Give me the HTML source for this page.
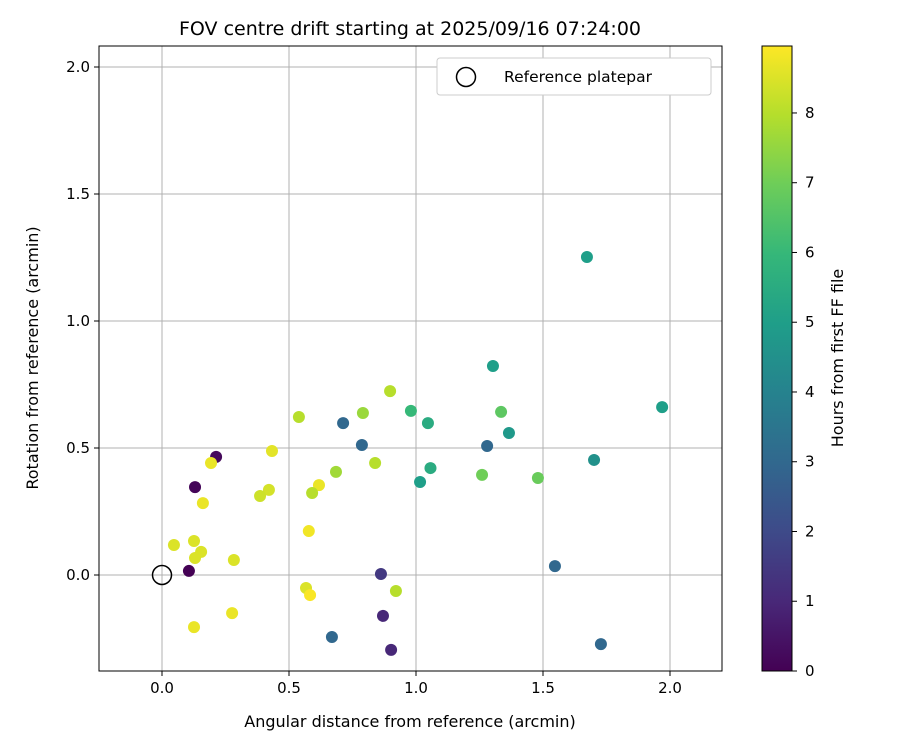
<!DOCTYPE html>
<html><head><meta charset="utf-8"><style>
body{margin:0;background:#fff;font-family:"Liberation Sans","DejaVu Sans",sans-serif}
svg text{font-family:"DejaVu Sans","Liberation Sans",sans-serif}
</style></head><body>
<svg id="c" width="900" height="750" viewBox="0 0 900 750"></svg>
<script>
const xVals=[1.673,1.303,1.969,0.898,1.335,0.980,0.791,0.539,0.713,1.047,1.366,0.787,1.280,0.213,0.433,0.193,1.701,0.839,1.057,0.685,1.260,1.480,1.016,0.618,0.130,0.421,0.591,0.386,0.161,0.578,0.047,0.126,0.154,0.130,0.283,1.547,0.106,0.862,0.567,0.921,0.583,0.276,0.870,0.126,0.669,1.728,0.902];
const yVals=[1.252,0.823,0.661,0.724,0.642,0.646,0.638,0.622,0.598,0.598,0.559,0.512,0.508,0.465,0.488,0.441,0.453,0.441,0.421,0.406,0.394,0.382,0.366,0.354,0.346,0.335,0.323,0.311,0.283,0.173,0.118,0.134,0.091,0.067,0.059,0.035,0.016,0.004,-0.051,-0.063,-0.079,-0.150,-0.161,-0.205,-0.244,-0.272,-0.295];
const hours=[5,5,5,8,6.7,6,7.6,8,3,5.5,4.8,3,3,0.2,8.6,8.7,4.5,8,5.5,7.7,7,6.9,5,8.7,0.1,8.4,8,8.3,8.7,8.8,8.5,8.5,8.5,8.5,8.5,3,0,1.5,8.5,8,8.9,8.7,1,8.7,3,3,1];
const xTicks=[0.0,0.5,1.0,1.5,2.0];
const yTicks=[0.0,0.5,1.0,1.5,2.0];
const cTicks=[0,1,2,3,4,5,6,7,8];
const NS="http://www.w3.org/2000/svg";
const svg=document.getElementById('c');
const L=99,R=722,T=46,B=671;
const X=v=>162+v*254, Y=v=>575-v*254;
const cmax=8.96, CB=671, CT=46, Cy=h=>CB-h*(CB-CT)/cmax;
const vir=[[68,1,84],[72,40,120],[62,74,137],[49,104,142],[38,130,142],[31,158,137],[53,183,121],[109,205,89],[180,222,44],[253,231,37]];
function col(h){let t=Math.max(0,Math.min(1,h/cmax))*9,i=Math.min(8,Math.floor(t)),f=t-i;const a=vir[i],b=vir[i+1];return `rgb(${a.map((v,k)=>Math.round(v+(b[k]-v)*f)).join(',')})`;}
function el(tag,at,txt){const e=document.createElementNS(NS,tag);for(const k in at)e.setAttribute(k,at[k]);if(txt!==undefined)e.textContent=txt;svg.appendChild(e);return e;}
let e;
e=el('text',{x:410,y:35,'text-anchor':'middle','font-size':19},'FOV centre drift starting at 2025/09/16 07:24:00');


xTicks.forEach(v=>{
 e=el('line',{x1:X(v),x2:X(v),y1:T,y2:B,stroke:'#b0b0b0','stroke-width':1});
 
 
 el('line',{x1:X(v),x2:X(v),y1:B,y2:B+5,stroke:'#000'});
 e=el('text',{x:X(v),y:B+22,'text-anchor':'middle','font-size':15},v.toFixed(1));
 
 
});
yTicks.forEach(v=>{
 e=el('line',{x1:L,x2:R,y1:Y(v),y2:Y(v),stroke:'#b0b0b0','stroke-width':1});
 
 
 el('line',{x1:L-5,x2:L,y1:Y(v),y2:Y(v),stroke:'#000'});
 e=el('text',{x:L-9,y:Y(v)+5,'text-anchor':'end','font-size':15},v.toFixed(1));
 
 
});
xVals.forEach((x,i)=>{
 e=el('circle',{cx:X(x),cy:Y(yVals[i]),r:6,fill:col(hours[i])});
 
 
});
e=el('circle',{cx:X(0),cy:Y(0),r:9.5,fill:'none',stroke:'#000','stroke-width':1.5});


e=el('rect',{x:L,y:T,width:R-L,height:B-T,fill:'none',stroke:'#000','stroke-width':1});


e=el('text',{x:410,y:727,'text-anchor':'middle','font-size':16},'Angular distance from reference (arcmin)');


e=el('text',{x:38,y:358,'text-anchor':'middle','font-size':16,transform:'rotate(-90 38 358)'},'Rotation from reference (arcmin)');


e=el('rect',{x:437,y:58,width:274,height:37,rx:3,fill:'#fff',stroke:'#ccc'});


e=el('circle',{cx:466,cy:77,r:9.5,fill:'none',stroke:'#000','stroke-width':1.5});


e=el('text',{x:504,y:82,'font-size':15.5},'Reference platepar');


const defs=el('defs',{});const g=document.createElementNS(NS,'linearGradient');g.setAttribute('id','vg');g.setAttribute('x1',0);g.setAttribute('y1',1);g.setAttribute('x2',0);g.setAttribute('y2',0);
vir.forEach((c,i)=>{const s=document.createElementNS(NS,'stop');s.setAttribute('offset',i/9);s.setAttribute('stop-color',`rgb(${c})`);g.appendChild(s);});defs.appendChild(g);
e=el('rect',{x:762,y:CT,width:30,height:CB-CT,fill:'url(#vg)',stroke:'#000'});


cTicks.forEach(v=>{
 el('line',{x1:792,x2:797,y1:Cy(v),y2:Cy(v),stroke:'#000'});
 e=el('text',{x:805,y:Cy(v)+5,'font-size':15},String(v));
 
 
});
e=el('text',{x:843,y:358,'text-anchor':'middle','font-size':16,transform:'rotate(-90 843 358)'},'Hours from first FF file');


</script>
</body></html>
